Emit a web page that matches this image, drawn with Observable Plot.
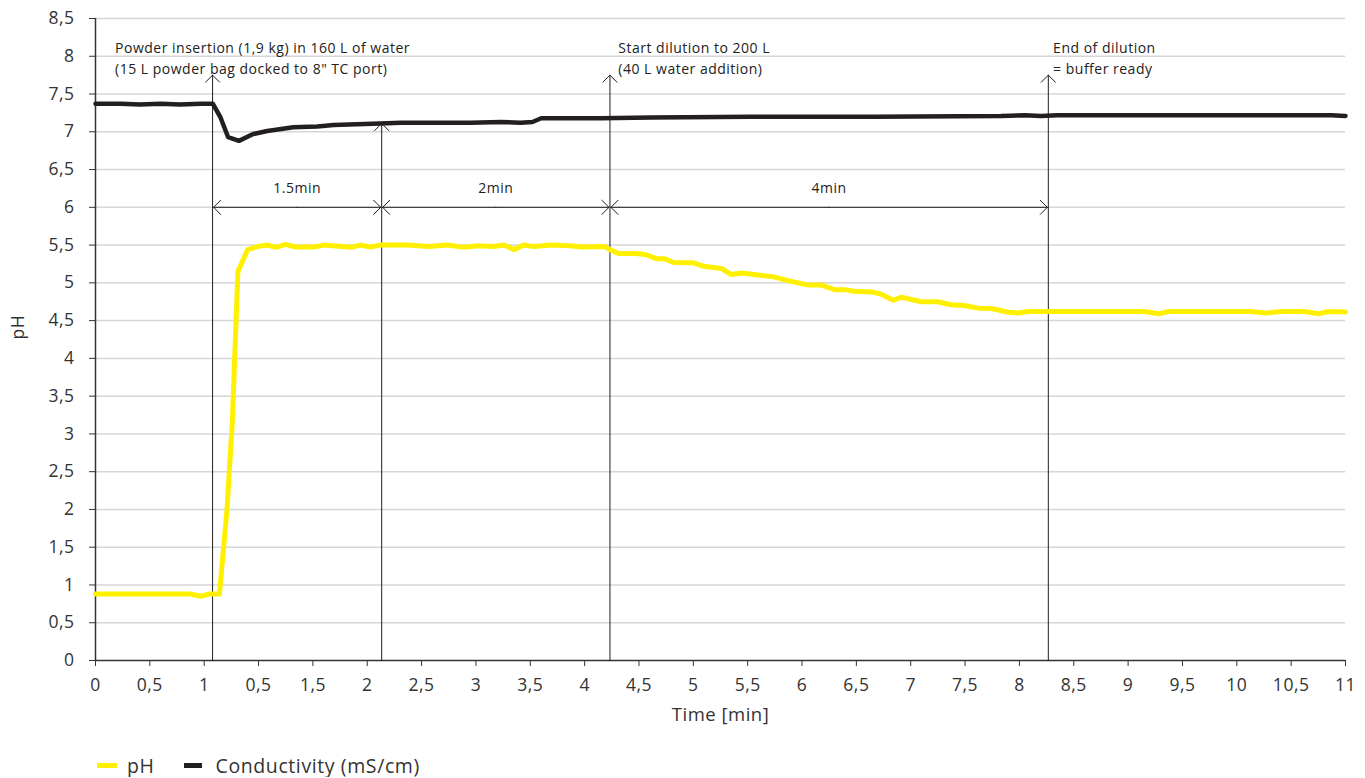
<!DOCTYPE html>
<html><head><meta charset="utf-8">
<script src="https://cdn.jsdelivr.net/npm/d3@7"></script>
<script src="https://cdn.jsdelivr.net/npm/@observablehq/plot@0.6"></script>
<style>
body{margin:0;background:#fff;font-family:"Open Sans", sans-serif;}
svg text{letter-spacing:0.5px}
svg text.ann{letter-spacing:0.25px}
#legend{display:flex;align-items:center;height:24px;margin-top:13px;padding-left:97px;font-size:19.5px;color:#333;letter-spacing:0.6px}
.sw{display:inline-block;height:5px}
.item{display:flex;align-items:center}
</style></head><body><div id="chart"></div><div id="legend"></div>
<script>
const xTickLabels = ["0","0,5","1","0,5","1,5","2","2,5","3","3,5","4","4,5","5","5,5","6","6,5","7","7,5","8","8,5","9","9,5","10","10,5","11"];
const yTickValues = [0,0.5,1,1.5,2,2.5,3,3.5,4,4.5,5,5.5,6,6.5,7,7.5,8,8.5];
const yTickLabels = ["0","0,5","1","1,5","2","2,5","3","3,5","4","4,5","5","5,5","6","6,5","7","7,5","8","8,5"];

const phTime = [0.00,0.51,0.87,0.97,1.04,1.14,1.21,1.26,1.31,1.40,1.49,1.58,1.66,1.75,1.84,2.01,2.10,2.35,2.44,2.53,2.62,2.87,3.06,3.24,3.39,3.52,3.66,3.76,3.85,3.94,4.03,4.19,4.37,4.47,4.68,4.72,4.81,4.97,5.06,5.16,5.23,5.32,5.50,5.59,5.76,5.85,5.94,6.06,6.24,6.37,6.56,6.68,6.80,6.89,6.98,7.14,7.23,7.34,7.41,7.60,7.75,7.87,7.99,8.12,8.24,8.40,8.49,8.58,9.65,9.78,9.87,10.63,10.76,10.91,11.12,11.25,11.34,11.50];
const phValues = [0.88,0.88,0.88,0.85,0.88,0.88,2.0,3.2,5.15,5.44,5.48,5.50,5.47,5.51,5.475,5.475,5.50,5.47,5.50,5.475,5.50,5.50,5.48,5.50,5.47,5.49,5.48,5.50,5.44,5.50,5.48,5.50,5.49,5.475,5.48,5.45,5.39,5.39,5.375,5.32,5.32,5.27,5.265,5.22,5.19,5.11,5.13,5.11,5.08,5.03,4.97,4.97,4.91,4.91,4.89,4.88,4.85,4.77,4.81,4.75,4.75,4.71,4.70,4.665,4.66,4.61,4.60,4.62,4.62,4.59,4.62,4.62,4.60,4.62,4.62,4.59,4.62,4.615];

const condTime = [0.00,0.23,0.41,0.60,0.78,0.97,1.08,1.15,1.22,1.32,1.45,1.58,1.82,2.04,2.19,2.62,2.81,3.45,3.73,3.91,4.02,4.10,4.65,5.11,6.03,7.16,8.33,8.55,8.70,8.85,9.25,11.37,11.50];
const condValues = [7.37,7.37,7.36,7.37,7.36,7.37,7.37,7.19,6.93,6.88,6.97,7.01,7.06,7.07,7.09,7.11,7.12,7.12,7.13,7.12,7.13,7.18,7.18,7.19,7.20,7.20,7.21,7.22,7.21,7.22,7.22,7.22,7.21];

const eventTimes = [1.077, 2.633, 4.733, 8.766];
const eventTops = [7.75, 7.11, 7.75, 7.75];
const eventLabels = ["Powder insertion (1,9 kg) in 160 L of water\n(15 L powder bag docked to 8\" TC port)", "", "Start dilution to 200 L\n(40 L water addition)", "End of dilution\n= buffer ready"];
const eventLabelX = [0.18, null, 4.81, 8.81];
const intervalLabels = ["1.5min", "2min", "4min"];
const intervalY = 6.0;

const xTickValues = xTickLabels.map((_, i) => i * 0.5);
const xFmt = new Map(xTickValues.map((v, i) => [v, xTickLabels[i]]));
const yFmt = new Map(yTickValues.map((v, i) => [v, yTickLabels[i]]));

const ph = phTime.map((t, i) => ({t, v: phValues[i]}));
const cond = condTime.map((t, i) => ({t, v: condValues[i]}));
const events = eventTimes.map((t, i) => ({t, top: eventTops[i], label: eventLabels[i], lx: eventLabelX[i]}));
const intervals = intervalLabels.map((label, i) => ({a: eventTimes[i], b: eventTimes[i + 1], mid: (eventTimes[i] + eventTimes[i + 1]) / 2, label}));

const ink = "#1e1e1e";
const chart = Plot.plot({
  width: 1365, height: 740,
  marginLeft: 95, marginRight: 20, marginTop: 18, marginBottom: 80,
  style: {fontFamily: "'Open Sans', sans-serif", color: "#333", background: "#fff"},
  x: {domain: [0, 11.5]},
  y: {domain: [0, 8.5]},
  marks: [
    Plot.gridY(yTickValues.filter(v => v > 0), {stroke: "#d6d6d6", strokeOpacity: 1, strokeWidth: 1.5}),
    Plot.axisY({ticks: yTickValues, tickFormat: d => yFmt.get(d), tickSize: 6, tickPadding: 15, fontSize: 17.5, label: null, stroke: "#333", fill: "#333"}),
    Plot.axisX({ticks: xTickValues, tickFormat: d => xFmt.get(d), tickSize: 6, tickPadding: 12, fontSize: 17.5, label: null, stroke: "#333", fill: "#333"}),
    Plot.ruleX([0], {stroke: "#333", strokeWidth: 1.5}),
    Plot.ruleY([0], {stroke: "#333", strokeWidth: 1.5}),
    Plot.text(["pH"], {frameAnchor: "left", dx: -77, rotate: -90, fontSize: 17.5, fill: "#333"}),
    Plot.text(["Time [min]"], {frameAnchor: "bottom", dy: 60, fontSize: 18.5, fill: "#333"}),
    Plot.arrow(events, {x1: d => d.t, y1: d => 0, x2: d => d.t, y2: d => d.top, stroke: ink, strokeWidth: 1, headLength: 15, headAngle: 90}),
    Plot.arrow(intervals, {x1: d => d.mid, y1: d => intervalY, x2: d => d.a, y2: d => intervalY, stroke: ink, strokeWidth: 1, headLength: 15, headAngle: 90, insetEnd: 1}),
    Plot.arrow(intervals, {x1: d => d.mid, y1: d => intervalY, x2: d => d.b, y2: d => intervalY, stroke: ink, strokeWidth: 1, headLength: 15, headAngle: 90, insetEnd: 1}),
    Plot.text(intervals, {x: "mid", y: d => intervalY, text: "label", dy: -19, fontSize: 14, fill: "#222", className: "ann"}),
    Plot.text(events.filter(d => d.label), {x: "lx", y: d => 8.25, text: "label", textAnchor: "start", lineAnchor: "top", lineHeight: 1.55, fontSize: 14, fill: "#222", className: "ann"}),
    Plot.line(cond, {x: "t", y: "v", stroke: "#231f20", strokeWidth: 4.5, strokeLinejoin: "round"}),
    Plot.line(ph, {x: "t", y: "v", stroke: "#fff000", strokeWidth: 5, strokeLinejoin: "round"})
  ]
});
document.getElementById("chart").appendChild(chart);

const legendItems = [
  {label: "pH", color: "#fff000", w: 20, gap: 10, after: 29},
  {label: "Conductivity (mS/cm)", color: "#231f20", w: 18, gap: 14, after: 0}
];
const legend = document.getElementById("legend");
for (const it of legendItems) {
  const el = document.createElement("span");
  el.className = "item";
  el.style.marginRight = it.after + "px";
  el.innerHTML = `<span class="sw" style="background:${it.color};width:${it.w}px;margin-right:${it.gap}px"></span>${it.label}`;
  legend.appendChild(el);
}
</script></body></html>
